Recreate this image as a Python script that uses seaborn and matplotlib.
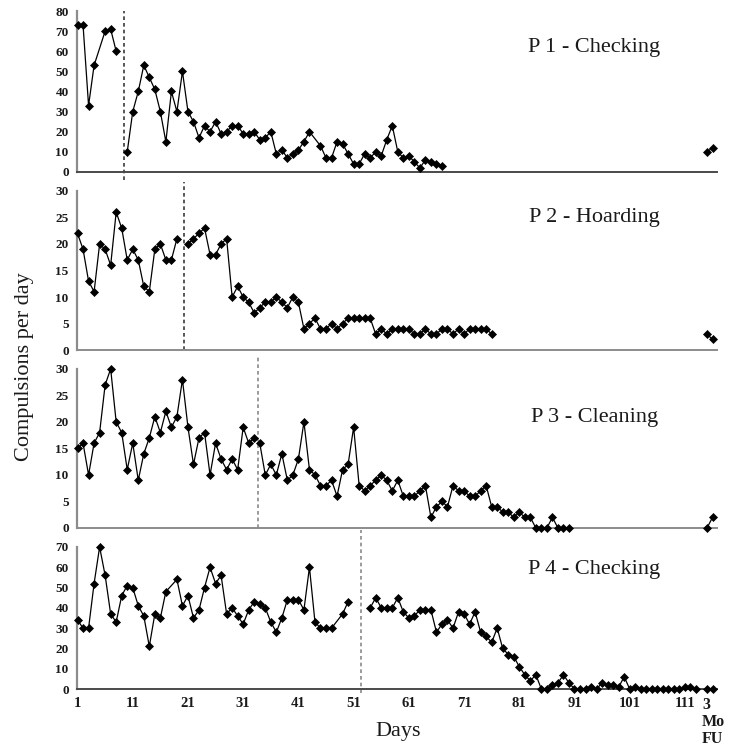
import numpy as np
import pandas as pd
import matplotlib
matplotlib.use("Agg")
import matplotlib.pyplot as plt
import matplotlib.transforms as mtransforms
import seaborn as sns

# Daily compulsion counts per participant (None = no record that day)
p1_daily = [73, 73, 33, 53, None, 70, 71, 60, None,
            10, 30, 40, 53, 47, 41, 30, 15, 40, 30, 50, 30, 25, 17, 23, 20, 25, 19, 20,
            23, 23, 19, 19, 20, 16, 17, 20, 9, 11, 7, 9, 11, 15, 20, None, 13, 7, 7, 15,
            14, 9, 4, 4, 9, 7, 10, 8, 16, 23, 10, 7, 8, 5, 2, 6, 5, 4, 3]
p2_daily = [22, 19, 13, 11, 20, 19, 16, 26, 23, 17, 19, 17, 12, 11, 19, 20, 17, 17, 21, None,
            20, 21, 22, 23, 18, 18, 20, 21, 10, 12, 10, 9, 7, 8, 9, 9, 10, 9, 8, 10,
            9, 4, 5, 6, 4, 4, 5, 4, 5, 6, 6, 6, 6, 6, 3, 4, 3, 4, 4, 4,
            4, 3, 3, 4, 3, 3, 4, 4, 3, 4, 3, 4, 4, 4, 4, 3]
p3_daily = [15, 16, 10, 16, 18, 27, 30, 20, 18, 11, 16, 9, 14, 17, 21, 18, 22, 19, 21, 28,
            19, 12, 17, 18, 10, 16, 13, 11, 13, 11, 19, 16, 17,
            16, 10, 12, 10, 14, 9, 10, 13, 20, 11, 10, 8, 8, 9, 6, 11, 12,
            19, 8, 7, 8, 9, 10, 9, 7, 9, 6, 6, 6, 7, 8, 2, 4, 5, 4, 8, 7,
            7, 6, 6, 7, 8, 4, 4, 3, 3, 2, 3, 2, 2, 0, 0, 0, 2, 0, 0, 0]
p4_daily = [34, 30, 30, 52, 70, 56, 37, 33, 46, 51, 50, 41, 36, 21, 37, 35, 48, None, 54, 41,
            46, 35, 39, 50, 60, 52, 56, 37, 40, 36, 32, 39, 43, 42, 40, 33, 28, 35, 44, 44,
            44, 39, 60, 33, 30, 30, 30, None, 37, 43, None, None, None,
            40, 45, 40, 40, 40, 45, 38, 35, 36, 39, 39, 39, 28, 32, 34, 30, 38, 37,
            32, 38, 28, 26, 23, 30, 20, 17, 16, 11, 7, 4, 7, 0, 0, 2, 3, 7, 3,
            0, 0, 0, 1, 0, 3, 2, 2, 1, 6, 0, 1, 0, 0, 0, 0, 0, 0, 0, 0, 1, 1, 0]

# Three-month follow-up counts
p1_followup = [10, 12]
p2_followup = [3, 2]
p3_followup = [0, 2]
p4_followup = [0, 0]

# Last baseline day of each participant
baseline_end = [9, 20, 33, 52]
# Position of the phase-change line on the day axis
phase_line = [9.5, 20.2, 33.7, 52.4]

titles = ["P 1 - Checking", "P 2 - Hoarding", "P 3 - Cleaning", "P 4 - Checking"]
y_max = [80, 30, 30, 70]
y_step = [10, 5, 5, 10]

followup_days = [115, 116]
day_ticks = list(range(1, 112, 10))
followup_tick_label = "3\nMo\nFU"

daily = [p1_daily, p2_daily, p3_daily, p4_daily]
followups = [p1_followup, p2_followup, p3_followup, p4_followup]

sns.set_style("white")
plt.rcParams["font.family"] = ["Liberation Serif", "DejaVu Serif"]

fig = plt.figure(figsize=(7.31, 7.49), dpi=100)

# Panel rectangles [left, bottom, width, height] in figure fraction
rects = [
    [0.1053, 0.7704, 0.8755, 0.2149],
    [0.1053, 0.5327, 0.8755, 0.2123],
    [0.1053, 0.2951, 0.8755, 0.2123],
    [0.1053, 0.0801, 0.8755, 0.1896],
]
title_pos = [(0.808, 0.776), (0.808, 0.836), (0.808, 0.692), (0.808, 0.845)]
dash_span = [(-0.05, 1.0), (0.0, 1.056), (0.0, 1.075), (-0.03, 1.12)]
dash_color = ["#3a3a3a", "#3a3a3a", "#8a8a8a", "#8a8a8a"]

for i in range(4):
    ax = fig.add_axes(rects[i])
    vals = daily[i]
    days = np.arange(1, len(vals) + 1)
    seg = np.where(days <= baseline_end[i], "baseline", "treatment")
    df = pd.DataFrame({"day": days,
                       "value": pd.array(vals, dtype="Float64").astype(float),
                       "segment": seg})
    fu = pd.DataFrame({"day": followup_days, "value": followups[i],
                       "segment": ["followup"] * len(followup_days)})
    df = pd.concat([df, fu], ignore_index=True).dropna()

    sns.lineplot(data=df, x="day", y="value", units="segment", estimator=None,
                 color="black", linewidth=0.9, marker="D", markersize=4.3,
                 markeredgecolor="black", markeredgewidth=0.5, legend=False,
                 ax=ax, clip_on=False, zorder=3)

    ax.axvline(phase_line[i], ymin=dash_span[i][0], ymax=dash_span[i][1],
               color=dash_color[i], linestyle=(0, (2.2, 1.8)), linewidth=1.2,
               clip_on=False, zorder=2)

    ax.set_xlim(0.9, 116.8)
    ax.set_ylim(0, y_max[i])
    ax.set_yticks(np.arange(0, y_max[i] + 1, y_step[i]))
    ax.set_xlabel("")
    ax.set_ylabel("")
    sns.despine(ax=ax)
    ax.spines["left"].set_color("#8c8c8c")
    ax.spines["left"].set_linewidth(1.6)
    ax.spines["bottom"].set_color("#4a4a4a" if i in (0, 3) else "#8c8c8c")
    ax.spines["bottom"].set_linewidth(1.4)
    ax.tick_params(axis="y", length=3, width=1, color="#8c8c8c", pad=3,
                   labelsize=9.5, labelcolor="#1a1a1a")
    plt.setp(ax.get_yticklabels(), fontweight="bold")

    ax.text(title_pos[i][0], title_pos[i][1], titles[i], transform=ax.transAxes,
            ha="center", va="center", fontsize=16, color="#1a1a1a")

    if i < 3:
        ax.set_xticks([])
    else:
        ax.set_xticks(day_ticks + [followup_days[0]])
        ax.set_xticklabels([str(d) for d in day_ticks] + [followup_tick_label])
        ax.tick_params(axis="x", length=0, pad=6, labelsize=10.5,
                       labelcolor="#1a1a1a")
        labels = ax.get_xticklabels()
        plt.setp(labels, fontweight="bold")
        last = labels[-1]
        last.set_horizontalalignment("left")
        last.set_multialignment("left")
        last.set_linespacing(1.05)
        last.set_fontsize(11.5)
        last.set_transform(last.get_transform() +
                           mtransforms.ScaledTranslation(-5 / 100, 0, fig.dpi_scale_trans))

fig.text(0.033, 0.511, "Compulsions per day", rotation=90, ha="center", va="center",
         fontsize=16, color="#1a1a1a")
fig.text(0.545, 0.023, "Days", ha="center", va="center", fontsize=16, color="#1a1a1a")

fig.savefig("out.png", dpi=100)
